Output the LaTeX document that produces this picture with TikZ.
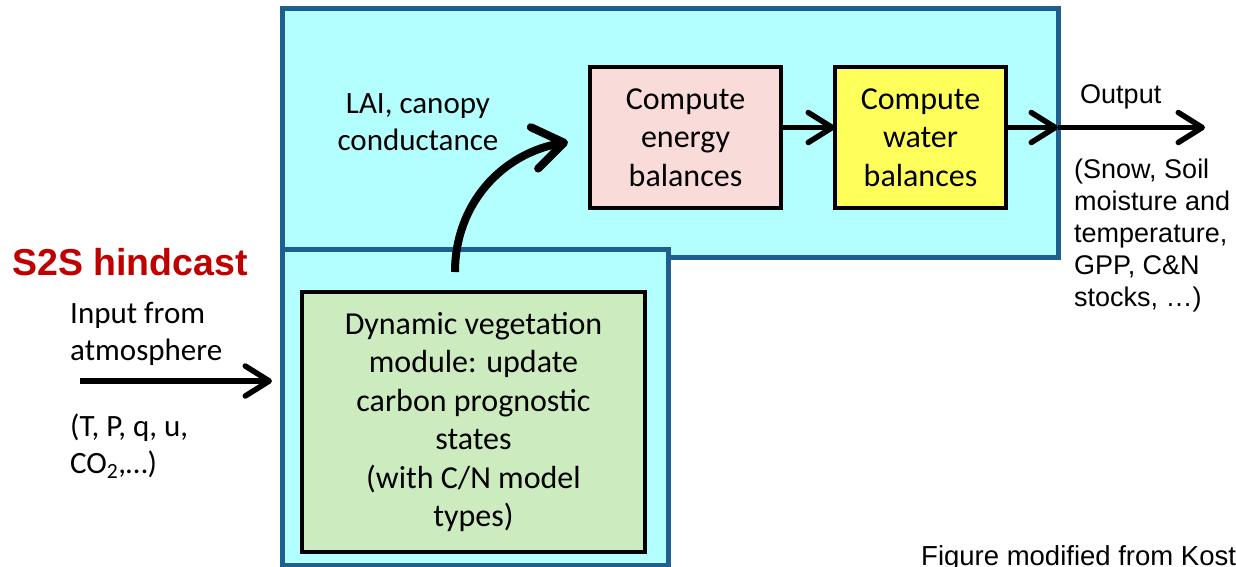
\documentclass[tikz,border=0pt]{standalone}
\usepackage{fontspec}
\setmainfont{Carlito}
\newfontfamily\arialf{Liberation Sans}
\usetikzlibrary{arrows.meta}
\definecolor{cyanfill}{HTML}{B3FFFF}
\definecolor{boxblue}{HTML}{1F5F8F}
\definecolor{pinkfill}{HTML}{F9DBDA}
\definecolor{yellowfill}{HTML}{FFFF5C}
\definecolor{greenfill}{HTML}{CCEBBE}
\definecolor{s2sred}{HTML}{C00000}
\begin{document}
\begin{tikzpicture}[x=1pt,y=-1pt,
  region/.style={draw=boxblue, line width=5pt, fill=cyanfill, inner sep=0pt, outer sep=0pt, anchor=north west},
  procbox/.style={draw=black, line width=3.5pt, align=center, inner sep=0pt, outer sep=0pt,
    font=\fontsize{32}{38.5}\selectfont},
  lbl/.style={inner sep=0pt, font=\fontsize{31}{37}\selectfont},
  albl/.style={inner sep=0pt, font=\arialf\fontsize{27}{32}\selectfont},
  flow/.style={line width=5.5pt, -{Straight Barb[length=24pt,width=30pt,line cap=round,line join=round]}},
  bigflow/.style={line width=8pt, -{Straight Barb[length=30pt,width=42pt,line cap=round,line join=round]}}
]
\path[fill=white, use as bounding box] (0,0) rectangle (1236,566);
\clip (0,0) rectangle (1236,566);

% regions
\node[region, minimum width=776pt, minimum height=249pt] (top) at (282,8) {};
\node[region, minimum width=386pt, minimum height=316pt] (bottom) at (282,249) {};

% process boxes
\node[procbox, fill=pinkfill, minimum width=191pt, minimum height=141pt] (pink) at (685.5,137.5)
  {Compute\\energy\\balances};
\node[procbox, fill=yellowfill, minimum width=171pt, minimum height=141pt] (yellow) at (920.5,137.5)
  {Compute\\water\\balances};
\node[procbox, fill=greenfill, minimum width=343pt, minimum height=260pt] (green) at (473.5,422)
  {Dynamic vegetation\\module: update\\carbon prognostic\\states\\(with C/N model\\types)};

% labels
\node[lbl, align=center] (lai) at (418,122) {LAI, canopy\\conductance};
\node[lbl, align=left, anchor=west] (inp) at (70,334) {Input from\\atmosphere};
\node[lbl, align=left, anchor=west] (vars) at (70,446) {(T, P, q, u,\\CO\textsubscript{2},…)};
\node[albl, anchor=west] (outl) at (1080,97) {Output};
\node[albl, align=left, anchor=west] (outv) at (1074,236)
  {(Snow, Soil\\moisture and\\temperature,\\GPP, C\&N\\stocks, …)};
\node[inner sep=0pt, anchor=west, text=s2sred, font=\arialf\bfseries\fontsize{37.5}{40}\selectfont] (s2s)
  at (12,262) {S2S hindcast};
\node[inner sep=0pt, anchor=base west, font=\arialf\fontsize{27.5}{30}\selectfont] (fig)
  at (921,565) {Figure modified from Kost};

% connectors
\coordinate (inS) at (80,381);
\coordinate (inE) at ([xshift=-10pt]bottom.west |- inS);
\draw[flow] (inS) -- (inE);
\draw[flow] ([yshift=10pt]pink.east) -- ([yshift=10pt]yellow.west);
\coordinate (border) at ([yshift=10pt]top.east |- yellow.east);
\draw[flow] ([yshift=10pt]yellow.east) -- (border);
\coordinate (outE) at (1205,127.5);
\draw[flow] (border) -- (outE);
\coordinate (cS) at ([xshift=-18.5pt,yshift=20pt]green.north);
\coordinate (cE) at ([xshift=-22pt,yshift=-4.5pt]pink.west);
\draw[bigflow] (cS) to[out=90,in=190] (cE);
\end{tikzpicture}
\end{document}
